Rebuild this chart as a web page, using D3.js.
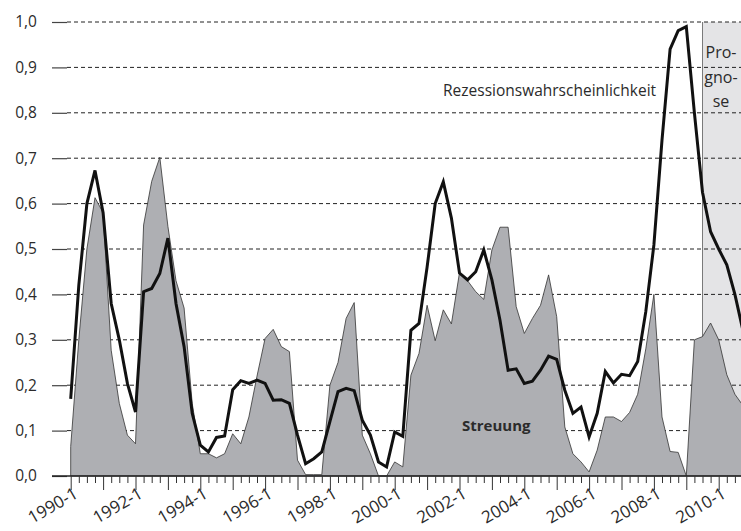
<!DOCTYPE html>
<html>
<head>
<meta charset="utf-8">
<script src="https://cdn.jsdelivr.net/npm/d3@7"></script>
<style>
  body { margin: 0; background: #fff; }
  svg text { font-family: "Open Sans", "Noto Sans", sans-serif; fill: #2b2b2b; }
</style>
</head>
<body>
<div id="chart"></div>
<script>
// quarters 1990-1 ... 2010-4
var years = d3.range(1990, 2011);
var quarters = [];
years.forEach(function(yr) { [1, 2, 3, 4].forEach(function(q) { quarters.push(yr + "-" + q); }); });

// Streuung (grey area)
var streuung = [
  0.065, 0.30, 0.50, 0.613, 0.58, 0.277, 0.16, 0.09,
  0.071, 0.553, 0.649, 0.702, 0.55, 0.43, 0.37, 0.16,
  0.049, 0.049, 0.04, 0.049, 0.093, 0.071, 0.13, 0.22,
  0.303, 0.323, 0.285, 0.274, 0.035, 0.003, 0.003, 0.003,
  0.20, 0.25, 0.347, 0.382, 0.09, 0.049, 0.0, 0.0,
  0.031, 0.02, 0.222, 0.27, 0.376, 0.298, 0.366, 0.335,
  0.448, 0.43, 0.406, 0.389, 0.498, 0.548, 0.548, 0.373,
  0.314, 0.347, 0.376, 0.443, 0.351, 0.108, 0.049, 0.031,
  0.009, 0.057, 0.13, 0.13, 0.12, 0.14, 0.18, 0.28,
  0.40, 0.13, 0.054, 0.052, 0.0, 0.30, 0.307, 0.337,
  0.30, 0.223, 0.18, 0.155
];

// Rezessionswahrscheinlichkeit (black line)
var rezession = [
  0.17, 0.42, 0.60, 0.673, 0.58, 0.38, 0.30, 0.204,
  0.141, 0.406, 0.413, 0.446, 0.524, 0.38, 0.285, 0.138,
  0.068, 0.053, 0.085, 0.088, 0.19, 0.21, 0.204, 0.211,
  0.204, 0.167, 0.168, 0.16, 0.09, 0.027, 0.038, 0.053,
  0.12, 0.186, 0.193, 0.188, 0.123, 0.09, 0.031, 0.02,
  0.097, 0.0875, 0.321, 0.336, 0.46, 0.60, 0.648, 0.568,
  0.447, 0.432, 0.45, 0.498, 0.432, 0.343, 0.233, 0.236,
  0.204, 0.209, 0.233, 0.264, 0.257, 0.189, 0.138, 0.152,
  0.086, 0.138, 0.23, 0.205, 0.224, 0.221, 0.252, 0.362,
  0.509, 0.74, 0.94, 0.981, 0.99, 0.80, 0.625, 0.538,
  0.50, 0.465, 0.40, 0.32
];

var yTicks = [0, 0.1, 0.2, 0.3, 0.4, 0.5, 0.6, 0.7, 0.8, 0.9, 1.0];
var xLabels = ["1990-1", "1992-1", "1994-1", "1996-1", "1998-1", "2000-1", "2002-1", "2004-1", "2006-1", "2008-1", "2010-1"];
var prognoseStart = "2009-3";

var W = 741, H = 531;
var svg = d3.select("#chart").append("svg")
    .attr("width", W)
    .attr("height", H);

var x = d3.scalePoint()
    .domain(quarters)
    .range([70.7, 70.7 + 8.1 * 83]);

var y = d3.scaleLinear()
    .domain([0, 1])
    .range([476, 22]);

var de = d3.formatLocale({decimal: ",", thousands: ".", grouping: [3], currency: ["", " €"]});
var fmt = de.format(".1f");

// prognosis box
svg.append("rect")
    .attr("x", x(prognoseStart))
    .attr("y", y(1))
    .attr("width", W - x(prognoseStart))
    .attr("height", y(0) - y(1))
    .attr("fill", "#e4e4e6");
svg.append("line")
    .attr("x1", x(prognoseStart)).attr("x2", x(prognoseStart))
    .attr("y1", y(1)).attr("y2", y(0))
    .attr("stroke", "#7a7a7a").attr("stroke-width", 1);

// dashed grid
svg.append("g").selectAll("line")
  .data(yTicks.slice(1))
  .enter().append("line")
    .attr("x1", 67).attr("x2", W)
    .attr("y1", function(d) { return y(d); })
    .attr("y2", function(d) { return y(d); })
    .attr("stroke", "#222")
    .attr("stroke-width", 1)
    .attr("stroke-dasharray", "4,3");

// Streuung area
var area = d3.area()
    .x(function(d, i) { return x(quarters[i]); })
    .y0(y(0))
    .y1(function(d) { return y(d); });
svg.append("path")
    .datum(streuung)
    .attr("d", area)
    .attr("fill", "#aeafb3")
    .attr("stroke", "#333")
    .attr("stroke-width", 0.8)
    .attr("stroke-linejoin", "miter");

// y axis
var yAxis = svg.append("g")
    .attr("transform", "translate(67,0)")
    .call(d3.axisLeft(y).tickValues(yTicks).tickFormat(fmt).tickSize(15).tickPadding(15));
yAxis.select(".domain").remove();
yAxis.selectAll("line").attr("stroke", "#444").attr("stroke-width", 1.2);
yAxis.selectAll("text")
    .style("font-size", "15.5px")
    .attr("fill", "#2b2b2b");

// x axis
svg.append("line")
    .attr("x1", 52).attr("x2", W)
    .attr("y1", y(0)).attr("y2", y(0))
    .attr("stroke", "#222").attr("stroke-width", 1.5);
var xAxis = svg.append("g")
    .attr("transform", "translate(0," + y(0) + ")")
    .call(d3.axisBottom(x).tickSize(7).tickSizeOuter(0)
      .tickFormat(function(d) { return xLabels.indexOf(d) >= 0 ? d : ""; }));
xAxis.select(".domain").remove();
xAxis.selectAll(".tick line")
    .attr("stroke", "#333")
    .attr("stroke-width", 1)
    .attr("y2", function(d) { return d.slice(-2) === "-1" ? 14 : 7; });
xAxis.selectAll(".tick text")
    .style("font-size", "17px")
    .attr("fill", "#2b2b2b")
    .attr("text-anchor", "end")
    .attr("dy", null)
    .attr("y", 0)
    .attr("transform", "translate(8,21) rotate(-30)");

// recession probability line
var line = d3.line()
    .x(function(d, i) { return x(quarters[i]); })
    .y(function(d) { return y(d); });
svg.append("path")
    .datum(rezession)
    .attr("d", line)
    .attr("fill", "none")
    .attr("stroke", "#111")
    .attr("stroke-width", 3)
    .attr("stroke-linejoin", "miter");

// labels
svg.append("text")
    .attr("x", 443).attr("y", 96)
    .style("font-size", "15.5px")
    .text("Rezessionswahrscheinlichkeit");
svg.append("text")
    .attr("x", 462).attr("y", 431)
    .style("font-size", "15px")
    .style("font-weight", "bold")
    .text("Streuung");
svg.append("g").selectAll("text")
  .data(["Pro-", "gno-", "se"])
  .enter().append("text")
    .attr("x", 721)
    .attr("y", function(d, i) { return 58 + i * 24.5; })
    .attr("text-anchor", "middle")
    .style("font-size", "16px")
    .text(function(d) { return d; });
</script>
</body>
</html>
